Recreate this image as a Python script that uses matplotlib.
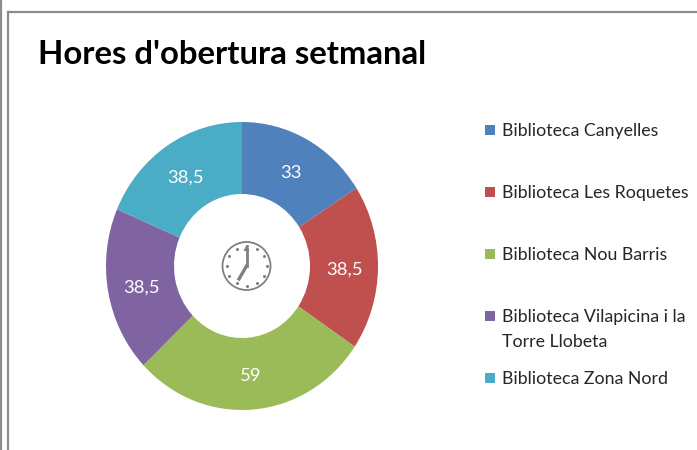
import numpy as np
import matplotlib
matplotlib.use("Agg")
import matplotlib.pyplot as plt
from matplotlib.patches import Ellipse, Rectangle

W, H = 697, 450

title = "Hores d'obertura setmanal"
labels = ["Biblioteca Canyelles", "Biblioteca Les Roquetes", "Biblioteca Nou Barris",
          "Biblioteca Vilapicina i la\nTorre Llobeta", "Biblioteca Zona Nord"]
values = [33, 38.5, 59, 38.5, 38.5]
value_labels = ["33", "38,5", "59", "38,5", "38,5"]
colors = ["#4F81BD", "#C0504D", "#9BBB59", "#8064A2", "#4BACC6"]
legend_y = [130, 192, 254, 316, 378]

plt.rcParams["font.family"] = ["Lato", "DejaVu Sans"]

fig = plt.figure(figsize=(W / 100, H / 100), dpi=100)

# pixel coords overlay for frame, title, legend, clock
bg = fig.add_axes([0, 0, 1, 1])
bg.set_xlim(0, W)
bg.set_ylim(H, 0)
bg.axis("off")

bg.plot([1, 1], [0, H], color="#8c8c8c", lw=1.6)
bg.plot([8, 8], [H, 12], color="#8c8c8c", lw=1.6)
bg.plot([8, W], [12, 12], color="#8c8c8c", lw=1.6)

bg.text(38, 54, title, fontsize=23.7, fontweight="bold", color="black", va="center", ha="left")

for lab, col, y in zip(labels, colors, legend_y):
    bg.add_patch(Rectangle((485, y - 5), 10, 10, color=col, lw=0))
    for i, part in enumerate(lab.split("\n")):
        bg.text(502, y + 1 + i * 25, part, fontsize=12.8, color="#262626", va="center", ha="left")

# donut is slightly stretched vertically in the original
ax = fig.add_axes([106 / W, 1 - 410 / H, 272 / W, 288 / H])
wedges, _ = ax.pie(values, colors=colors, startangle=90, counterclock=False, radius=1,
                   wedgeprops=dict(width=0.5, linewidth=0))
ax.set_aspect("auto")
ax.set_xlim(-1, 1)
ax.set_ylim(-1, 1)

total = sum(values)
start = 0
for v, txt in zip(values, value_labels):
    mid = (start + v / 2) / total * 2 * np.pi
    ax.text(0.75 * np.sin(mid), 0.75 * np.cos(mid) - 0.015, txt, color="white", fontsize=13.3,
            ha="center", va="center")
    start += v

# clock
top = fig.add_axes([0, 0, 1, 1])
top.set_xlim(0, W)
top.set_ylim(H, 0)
top.axis("off")
top.patch.set_alpha(0)
cx, cy, r = 246.5, 266, 24
top.add_patch(Ellipse((cx, cy), 2 * r, 2 * r, fill=False, ec="#808080", lw=1.3))
for k in range(12):
    a = k * np.pi / 6
    top.plot(cx + 20 * np.sin(a), cy - 20 * np.cos(a), "o", ms=2.2, color="#808080", mew=0)
top.plot([cx, cx], [cy, cy - 17], color="#808080", lw=2)
top.plot([cx, cx - 7.5], [cy, cy + 13], color="#808080", lw=2.4)
top.fill([cx - 3, cx, cx + 3], [cy - 15, cy - 21, cy - 15], color="#808080", lw=0)

fig.savefig("out.png", dpi=100)
